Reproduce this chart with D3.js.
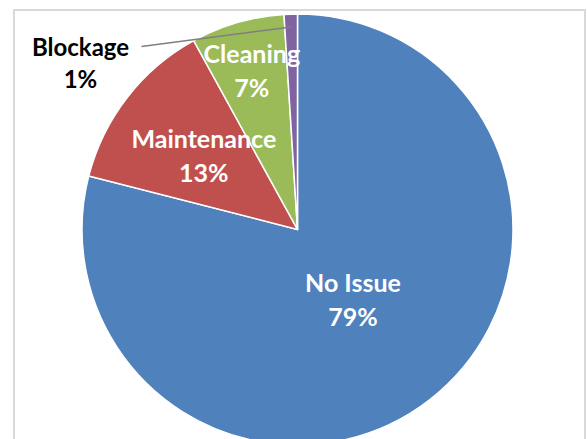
<!DOCTYPE html>
<html>
<head>
<meta charset="utf-8">
<script src="https://cdn.jsdelivr.net/npm/d3@7"></script>
<style>
  html, body { margin: 0; padding: 0; background: #fff; }
  svg { display: block; }
  text { font-family: Lato, "Open Sans", sans-serif; font-weight: bold; }
</style>
</head>
<body>
<script>
// Issue categories, in clockwise order from 12 o'clock
const categories = ["No Issue", "Maintenance", "Cleaning", "Blockage"];
const values = [79, 13, 7, 1];
const colors = ["#4F81BD", "#C0504D", "#9BBB59", "#8064A2"];
// Distance of each in-slice label from the centre, as a share of the radius
const labelRadius = [0.42, 0.55, 0.76, null];

const W = 587, H = 439;
const cx = 297.5, cy = 229.5, R = 215.5;

const svg = d3.select("body").append("svg")
  .attr("width", W).attr("height", H);

// chart area frame
svg.append("rect")
  .attr("x", 14).attr("y", 10)
  .attr("width", 571).attr("height", 460)
  .attr("fill", "#fff")
  .attr("stroke", "#d9d9d9").attr("stroke-width", 2);

const data = categories.map((c, i) => ({ name: c, value: values[i], color: colors[i], lr: labelRadius[i] }));

const pie = d3.pie().value(d => d.value).sort(null);
const arcs = pie(data);
const arc = d3.arc().innerRadius(0).outerRadius(R);

const g = svg.append("g").attr("transform", `translate(${cx},${cy})`);

g.selectAll("path.slice")
  .data(arcs)
  .join("path")
  .attr("class", "slice")
  .attr("d", arc)
  .attr("fill", d => d.data.color)
  .attr("stroke", "#fff")
  .attr("stroke-width", 1.5)
  .attr("stroke-linejoin", "round");

const total = d3.sum(values);
const pct = v => Math.round(v / total * 100) + "%";
const lineGap = 34;
const fontSize = 25;

// labels inside the slices
arcs.filter(d => d.data.lr !== null).forEach(d => {
  const r = R * d.data.lr;
  const [x, y] = d3.arc().innerRadius(r).outerRadius(r).centroid(d);
  const t = g.append("text")
    .attr("x", x).attr("y", y)
    .attr("text-anchor", "middle")
    .attr("fill", "#fff")
    .attr("font-size", fontSize);
  t.append("tspan").attr("x", x).attr("dy", -lineGap / 2 + 8).text(d.data.name);
  t.append("tspan").attr("x", x).attr("dy", lineGap).text(pct(d.data.value));
});

// the thin slice gets an outside label with a leader line
const small = arcs[arcs.length - 1];
const rIn = R * 0.94;
const [sx, sy] = d3.arc().innerRadius(rIn).outerRadius(rIn).centroid(small);
const ex = -156, ey = -183;
g.append("line")
  .attr("x1", sx).attr("y1", sy)
  .attr("x2", ex).attr("y2", ey)
  .attr("stroke", "#7f7f7f").attr("stroke-width", 1.5);
const bt = g.append("text")
  .attr("text-anchor", "middle")
  .attr("fill", "#000")
  .attr("font-size", 24);
bt.append("tspan").attr("x", ex - 61).attr("y", ey + 9).text(small.data.name);
bt.append("tspan").attr("x", ex - 61).attr("y", ey + 9 + 32).text(pct(small.data.value));
</script>
</body>
</html>
